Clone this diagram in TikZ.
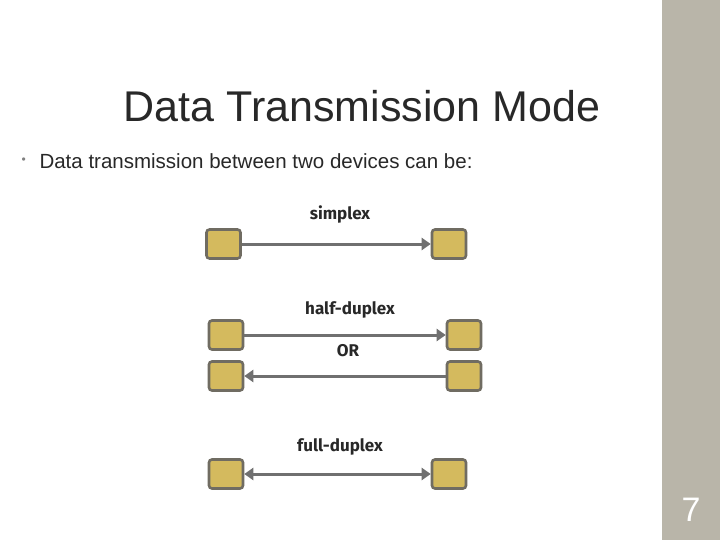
\documentclass[tikz,border=0pt]{standalone}
\usepackage{fontspec}
\setmainfont{Liberation Sans}
\newfontfamily\handfont{Fira Sans}
\usepackage{tikz}
\usetikzlibrary{arrows.meta,positioning}
\definecolor{bandgray}{RGB}{185,181,169}
\definecolor{boxgold}{RGB}{212,186,94}
\definecolor{boxedge}{RGB}{112,108,98}
\definecolor{linkgray}{RGB}{112,112,112}
\definecolor{inkdark}{RGB}{40,40,40}
\tikzset{
  devicebox/.style={draw=boxedge,fill=boxgold,rounded corners=3pt,line width=2.6pt,
    minimum width=34pt,minimum height=29pt,inner sep=0pt},
  modelabel/.style={font=\handfont\bfseries\fontsize{17}{19}\selectfont,text=inkdark},
  linkarrow/.style={draw=linkgray,line width=3pt,-{Triangle[length=9pt,width=12pt]}},
  botharrow/.style={draw=linkgray,line width=3pt,{Triangle[length=9pt,width=12pt]}-{Triangle[length=9pt,width=12pt]}}
}
\begin{document}
\begin{tikzpicture}[x=1pt,y=-1pt]
  \useasboundingbox (0,0) rectangle (720,540);
  \fill[white] (0,0) rectangle (720,540);
  \fill[bandgray] (662,0) rectangle (720,540);
  % title and bullet
  \node[text=inkdark] (title) at (362,106) {\fontsize{43}{50}\selectfont Data Transmission Mode};
  \node[anchor=west,text=gray] (bullet) at (18,161) {\fontsize{12}{14}\selectfont\textbullet};
  \node[anchor=west,text=inkdark] (intro) at (36,161) {\fontsize{20.5}{24}\selectfont Data transmission between two devices can be:};
  % simplex
  \node[modelabel] (lblsimplex) at (340,214) {simplex};
  \node[devicebox] (sA) at (223.5,244) {};
  \node[devicebox] (sB) at (449,244) {};
  \draw[linkarrow] (sA) -- (sB);
  % half-duplex
  \node[modelabel] (lblhalf) at (350,310) {half-duplex};
  \node[devicebox] (hA) at (226,335) {};
  \node[devicebox] (hB) at (464,335) {};
  \draw[linkarrow] (hA) -- (hB);
  \node[modelabel] (lblor) at (348,351) {OR};
  \node[devicebox] (hC) at (226,376) {};
  \node[devicebox] (hD) at (464,376) {};
  \draw[linkarrow] (hD) -- (hC);
  % full-duplex
  \node[modelabel] (lblfull) at (340,447) {full-duplex};
  \node[devicebox] (fA) at (226,474) {};
  \node[devicebox] (fB) at (449,474) {};
  \draw[botharrow] (fA) -- (fB);
  % slide number
  \node[text=white] (pagenum) at (691,510) {\fontsize{34}{38}\selectfont 7};
\end{tikzpicture}
\end{document}
